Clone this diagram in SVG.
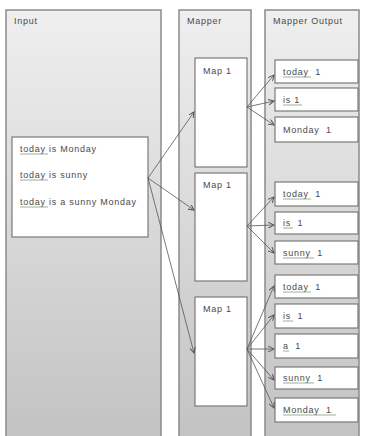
<svg xmlns="http://www.w3.org/2000/svg" width="367" height="436" viewBox="0 0 367 436">
<defs>
<linearGradient id="pg" x1="0" y1="0" x2="0" y2="1">
<stop offset="0" stop-color="#efefef"/>
<stop offset="1" stop-color="#c2c2c2"/>
</linearGradient>
<marker id="ah" markerWidth="7" markerHeight="6" refX="6" refY="3" orient="auto" markerUnits="userSpaceOnUse">
<path d="M0,0 L6,3 L0,6" fill="none" stroke="#555" stroke-width="1"/>
</marker>
<style>
.panel{fill:url(#pg);stroke:#8a8a8a;stroke-width:1.5}
.box{fill:#fff;stroke:#7a7a7a;stroke-width:1.2}
.t{font-family:"Liberation Sans",Arial,sans-serif;font-size:9px;letter-spacing:0.75px;fill:#4a4a4a;white-space:pre}
.ul{stroke:#6a8f6a;stroke-width:0.7}
.c{stroke:#555;stroke-width:0.8;fill:none;marker-end:url(#ah)}
</style>
</defs>
<rect width="367" height="436" fill="#fff"/>
<g id="panel-input"><rect class="panel" x="6" y="10" width="155" height="432"/><text class="t" x="14" y="24">Input</text></g>
<g id="panel-mapper"><rect class="panel" x="179" y="10" width="72" height="432"/><text class="t" x="187" y="24">Mapper</text></g>
<g id="panel-output"><rect class="panel" x="265" y="10" width="94" height="432"/><text class="t" x="273" y="24">Mapper Output</text></g>

<g id="input-box"><rect class="box" x="12" y="137" width="136" height="100"/>
<text class="t" x="20" y="152">today is Monday</text><line class="ul" x1="20" y1="154" x2="48" y2="154"/>
<text class="t" x="20" y="178">today is sunny</text><line class="ul" x1="20" y1="180" x2="48" y2="180"/>
<text class="t" x="20" y="205">today is a sunny Monday</text><line class="ul" x1="20" y1="207" x2="48" y2="207"/>
</g>

<g id="map1a"><rect class="box" x="195" y="58" width="52" height="109"/><text class="t" x="203" y="74">Map 1</text></g>
<g id="map1b"><rect class="box" x="195" y="173" width="52" height="108"/><text class="t" x="203" y="188">Map 1</text></g>
<g id="map1c"><rect class="box" x="195" y="297" width="52" height="109"/><text class="t" x="203" y="312">Map 1</text></g>

<g id="o1"><rect class="box" x="275" y="60" width="83" height="23"/><text class="t" x="283" y="75">today  1</text><line class="ul" x1="283" y1="77" x2="311" y2="77"/></g>
<g id="o2"><rect class="box" x="275" y="88" width="83" height="23"/><text class="t" x="283" y="103">is 1</text><line class="ul" x1="283" y1="105" x2="302" y2="105"/></g>
<g id="o3"><rect class="box" x="275" y="117" width="83" height="25"/><text class="t" x="283" y="133">Monday  1</text></g>

<g id="o4"><rect class="box" x="275" y="182" width="83" height="24"/><text class="t" x="283" y="197">today  1</text><line class="ul" x1="283" y1="199" x2="311" y2="199"/></g>
<g id="o5"><rect class="box" x="275" y="212" width="83" height="22"/><text class="t" x="283" y="226">is  1</text><line class="ul" x1="283" y1="228" x2="293" y2="228"/></g>
<g id="o6"><rect class="box" x="275" y="241" width="83" height="23"/><text class="t" x="283" y="256">sunny  1</text><line class="ul" x1="283" y1="258" x2="314" y2="258"/></g>

<g id="o7"><rect class="box" x="275" y="275" width="83" height="23"/><text class="t" x="283" y="290">today  1</text><line class="ul" x1="283" y1="292" x2="311" y2="292"/></g>
<g id="o8"><rect class="box" x="275" y="304" width="83" height="24"/><text class="t" x="283" y="319">is  1</text><line class="ul" x1="283" y1="321" x2="293" y2="321"/></g>
<g id="o9"><rect class="box" x="275" y="334" width="83" height="24"/><text class="t" x="283" y="349">a  1</text><line class="ul" x1="283" y1="351" x2="289" y2="351"/></g>
<g id="o10"><rect class="box" x="275" y="367" width="83" height="22"/><text class="t" x="283" y="381">sunny  1</text><line class="ul" x1="283" y1="383" x2="314" y2="383"/></g>
<g id="o11"><rect class="box" x="275" y="398" width="83" height="24"/><text class="t" x="283" y="413">Monday  1</text><line class="ul" x1="283" y1="415" x2="336" y2="415"/></g>

<g id="connectors">
<line class="c" x1="148" y1="178" x2="194" y2="112"/>
<line class="c" x1="148" y1="178" x2="194" y2="210"/>
<line class="c" x1="148" y1="178" x2="194" y2="353"/>
<line class="c" x1="247" y1="107" x2="274" y2="75"/>
<line class="c" x1="247" y1="107" x2="274" y2="101"/>
<line class="c" x1="247" y1="107" x2="274" y2="125"/>
<line class="c" x1="247" y1="226" x2="274" y2="197"/>
<line class="c" x1="247" y1="226" x2="274" y2="225"/>
<line class="c" x1="247" y1="226" x2="274" y2="253"/>
<line class="c" x1="247" y1="349" x2="274" y2="286"/>
<line class="c" x1="247" y1="349" x2="274" y2="315"/>
<line class="c" x1="247" y1="349" x2="274" y2="349"/>
<line class="c" x1="247" y1="349" x2="274" y2="380"/>
<line class="c" x1="247" y1="349" x2="274" y2="408"/>
</g>
</svg>
